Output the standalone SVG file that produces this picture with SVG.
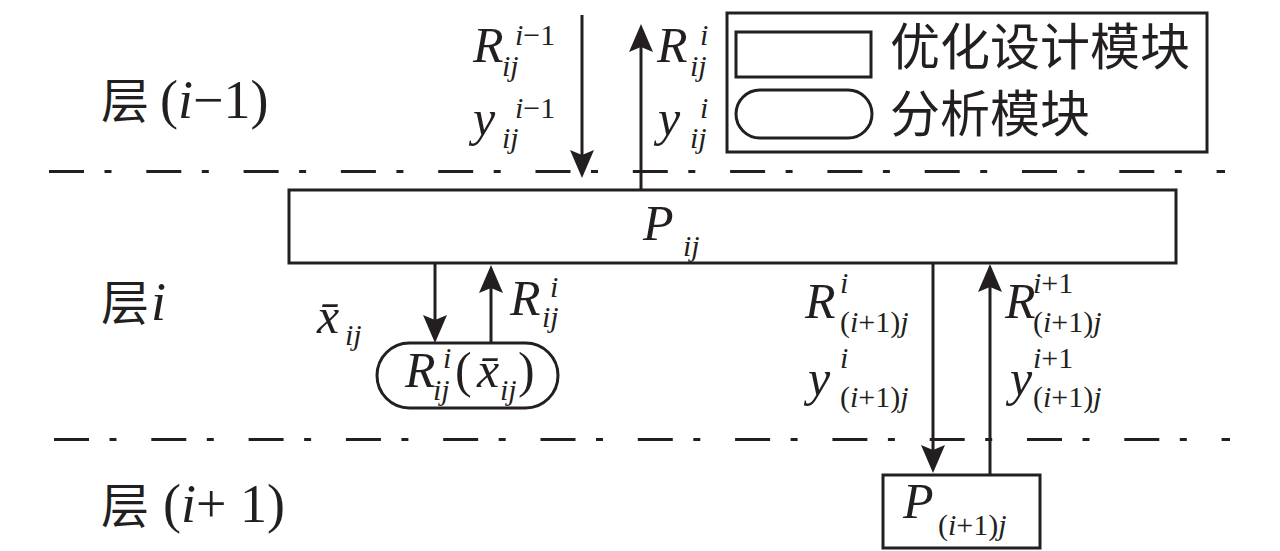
<svg xmlns="http://www.w3.org/2000/svg" width="1280" height="551" viewBox="0 0 1280 551">
<style>
.box{fill:#fff;stroke:#231f20;stroke-width:3}
.dash{fill:none;stroke:#231f20;stroke-width:3;stroke-dasharray:35 20.5 7 34.8}
.ln{fill:none;stroke:#231f20;stroke-width:3;marker-end:url(#ah)}
.m{font-family:'Liberation Serif',Tinos,'Times New Roman',serif;font-style:italic;fill:#231f20}
.u{font-style:normal}
.big{font-size:50px}
.sm{font-size:30px}
.cjk{font-family:'Noto Sans CJK SC','Noto Sans',sans-serif;fill:#231f20}
.lbl{font-family:'Liberation Serif',Tinos,'Times New Roman',serif;fill:#231f20;font-size:54px}
</style>
<defs>
<marker id="ah" markerUnits="userSpaceOnUse" markerWidth="30" markerHeight="26" refX="16" refY="12" orient="auto" viewBox="0 0 30 26">
<path d="M0,0 L28,12 L0,24 L5,12 z" fill="#231f20"/>
</marker>
</defs>
<rect width="1280" height="551" fill="#fff"/>

<g id="layers">
<line class="dash" x1="49" y1="171.5" x2="1225" y2="171.5"/>
<line class="dash" x1="54" y1="439.5" x2="1230" y2="439.5"/>
<text class="cjk" x="101" y="118" font-size="48">层</text>
<text class="lbl" x="160" y="118">(<tspan font-style="italic">i</tspan>−1)</text>
<text class="cjk" x="101" y="320" font-size="48">层</text>
<text class="lbl" x="151" y="320" font-style="italic">i</text>
<text class="cjk" x="101" y="523" font-size="48">层</text>
<text class="lbl" x="163" y="522">(<tspan font-style="italic">i</tspan>+ 1)</text>
</g>

<g id="legend">
<rect class="box" x="727" y="13" width="480" height="139"/>
<rect class="box" x="736" y="32" width="135" height="45"/>
<rect class="box" x="736" y="90" width="136" height="48" rx="24"/>
<text class="cjk" x="890" y="65" font-size="50">优化设计模块</text>
<text class="cjk" x="890" y="132" font-size="50">分析模块</text>
</g>

<g id="connectors">
<line class="ln" x1="582" y1="15" x2="582" y2="166"/>
<line class="ln" x1="641" y1="190" x2="641" y2="36"/>
<line class="ln" x1="435" y1="263" x2="435" y2="331"/>
<line class="ln" x1="491" y1="343" x2="491" y2="277"/>
<line class="ln" x1="933" y1="263" x2="933" y2="461"/>
<line class="ln" x1="990" y1="475" x2="990" y2="276"/>
</g>

<g id="P_ij">
<rect class="box" x="289" y="190" width="887" height="73"/>
<text class="m big" x="643" y="240">P</text>
<text class="m sm" x="683" y="256">ij</text>
</g>

<g id="R_module">
<rect class="box" x="377" y="343" width="181" height="65" rx="32.5"/>
<text class="m big" x="405" y="387">R</text>
<text class="m sm" x="443" y="368">i</text>
<text class="m sm" x="433" y="400">ij</text>
<text class="m big u" x="455" y="387">(</text>
<text class="m big" x="477" y="387">x̄</text>
<text class="m sm" x="500" y="400">ij</text>
<text class="m big u" x="518" y="387">)</text>
</g>

<g id="P_next">
<rect class="box" x="883" y="475" width="157" height="73"/>
<text class="m big" x="903" y="518">P</text>
<text class="m sm" x="938" y="535"><tspan class="u">(</tspan>i<tspan class="u">+1)</tspan>j</text>
</g>

<g id="labels">
<text class="m big" x="473" y="62">R</text>
<text class="m sm" x="515" y="45">i<tspan class="u">−1</tspan></text>
<text class="m sm" x="502" y="76">ij</text>
<text class="m big" x="473" y="135">y</text>
<text class="m sm" x="515" y="118">i<tspan class="u">−1</tspan></text>
<text class="m sm" x="502" y="148">ij</text>

<text class="m big" x="657" y="62">R</text>
<text class="m sm" x="700" y="45">i</text>
<text class="m sm" x="690" y="76">ij</text>
<text class="m big" x="658" y="135">y</text>
<text class="m sm" x="700" y="118">i</text>
<text class="m sm" x="690" y="148">ij</text>

<text class="m big" x="317" y="333">x̄</text>
<text class="m sm" x="345" y="345">ij</text>

<text class="m big" x="510" y="315">R</text>
<text class="m sm" x="550" y="297">i</text>
<text class="m sm" x="542" y="327">ij</text>

<text class="m big" x="805" y="318">R</text>
<text class="m sm" x="840" y="293">i</text>
<text class="m sm" x="840" y="332"><tspan class="u">(</tspan>i<tspan class="u">+1)</tspan>j</text>
<text class="m big" x="808" y="395">y</text>
<text class="m sm" x="840" y="368">i</text>
<text class="m sm" x="840" y="407"><tspan class="u">(</tspan>i<tspan class="u">+1)</tspan>j</text>

<text class="m big" x="1005" y="318">R</text>
<text class="m sm" x="1033" y="293">i<tspan class="u">+1</tspan></text>
<text class="m sm" x="1033" y="332"><tspan class="u">(</tspan>i<tspan class="u">+1)</tspan>j</text>
<text class="m big" x="1010" y="395">y</text>
<text class="m sm" x="1033" y="368">i<tspan class="u">+1</tspan></text>
<text class="m sm" x="1033" y="407"><tspan class="u">(</tspan>i<tspan class="u">+1)</tspan>j</text>
</g>
</svg>
